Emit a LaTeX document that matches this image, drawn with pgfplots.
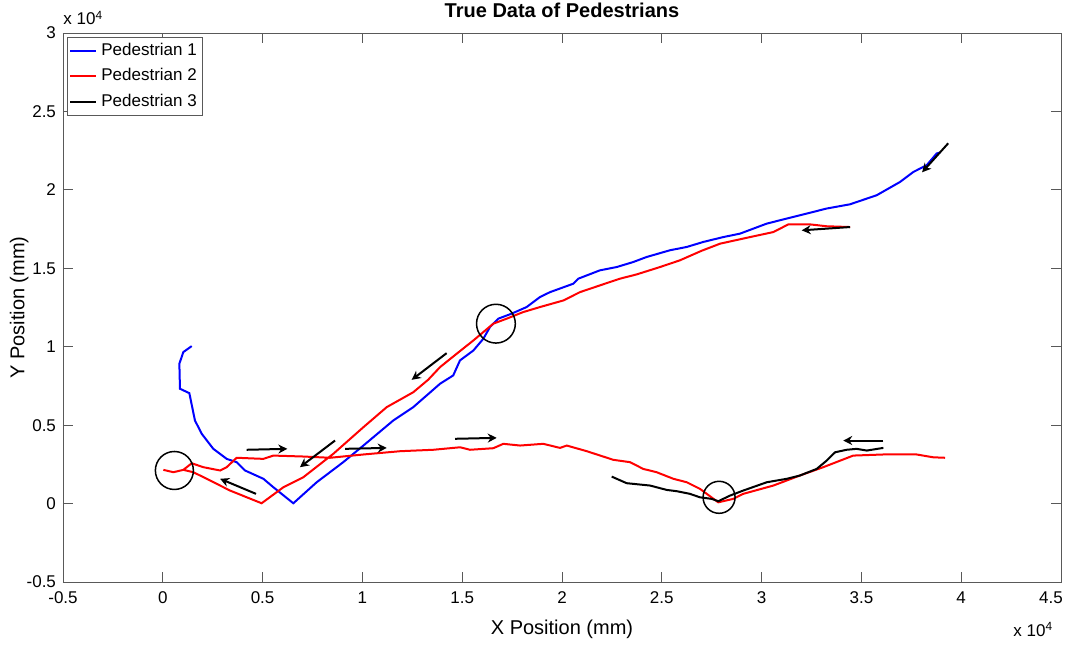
\documentclass[border=0pt]{standalone}
\usepackage{fontspec}
\setmainfont{Liberation Sans}
\usepackage{pgfplots}
\pgfplotsset{compat=1.18}
\usetikzlibrary{arrows.meta}
\definecolor{axgray}{gray}{0.35}
\begin{document}
\begin{tikzpicture}
\useasboundingbox (-31.5pt,-31pt) rectangle (503pt,291pt);
\begin{axis}[
  at={(0,0)}, anchor=south west,
  scale only axis, width=499pt, height=274.5pt,
  xmin=-0.5, xmax=4.5, ymin=-0.5, ymax=3,
  xtick={-0.5,0,0.5,1,1.5,2,2.5,3,3.5,4,4.5},
  xticklabels={-0.5,0,0.5,1,1.5,2,2.5,3,3.5,4,{\hspace*{-10pt}4.5}},
  ytick={-0.5,0,0.5,1,1.5,2,2.5,3},
  yticklabels={-0.5,0,0.5,1,1.5,2,2.5,3},
  tick align=inside,
  major tick length=5pt,
  axis line style={axgray},
  every tick/.style={axgray},
  tick label style={font=\fontsize{8.5}{10}\selectfont},
  xticklabel style={yshift=-1.5pt},
  xlabel={X Position (mm)},
  ylabel={Y Position (mm)},
  xlabel style={at={(axis description cs:0.5,0)}, anchor=north, inner sep=0pt, yshift=-19pt, font=\fontsize{10}{12}\selectfont},
  ylabel style={at={(axis description cs:-0.044,0.5)}, anchor=center, rotate=0, font=\fontsize{10}{12}\selectfont},
  title={True Data of Pedestrians},
  every axis title/.style={at={(axis description cs:0.5,1)}, anchor=base, inner sep=0pt, yshift=8pt, font=\bfseries\fontsize{10}{12}\selectfont},
  legend style={at={(axis description cs:0.004,0.993)}, anchor=north west, draw=axgray, font=\fontsize{8.5}{10}\selectfont, inner sep=1pt, row sep=1pt},
  legend cell align=left,
  legend image code/.code={\draw[#1, line width=1pt] (0pt,0pt) -- (13pt,0pt);},
  every axis plot/.append style={line width=1pt},
  clip=true,
]
\addplot[blue] coordinates {
(0.145,1.004) (0.103,0.966) (0.083,0.892) (0.086,0.732) (0.133,0.704) (0.161,0.530)
(0.195,0.445) (0.253,0.349) (0.320,0.285) (0.370,0.264) (0.412,0.211) (0.504,0.158)
(0.554,0.104) (0.654,0.002) (0.771,0.136) (0.904,0.264) (1.005,0.370) (1.155,0.530)
(1.255,0.615) (1.389,0.764) (1.455,0.817) (1.489,0.913) (1.556,0.976) (1.606,1.051)
(1.639,1.125) (1.681,1.179) (1.748,1.211) (1.823,1.253) (1.890,1.317) (1.940,1.348)
(2.057,1.402) (2.082,1.434) (2.190,1.487) (2.274,1.508) (2.357,1.540) (2.424,1.572)
(2.541,1.615) (2.625,1.636) (2.708,1.668) (2.808,1.699) (2.892,1.721) (3.026,1.785)
(3.192,1.838) (3.326,1.881) (3.443,1.908) (3.577,1.966) (3.693,2.050) (3.760,2.114)
(3.827,2.157) (3.877,2.232) (3.894,2.238)
};
\addlegendentry{Pedestrian 1}
\addplot[red] coordinates {
(3.443,1.763) (3.326,1.768) (3.242,1.780) (3.134,1.780) (3.059,1.731) (2.942,1.699)
(2.792,1.657) (2.700,1.612) (2.591,1.551) (2.491,1.508) (2.374,1.461) (2.291,1.434)
(2.190,1.391) (2.090,1.348) (2.007,1.295) (1.890,1.253) (1.806,1.221) (1.723,1.179)
(1.656,1.147) (1.556,1.040) (1.472,0.955) (1.389,0.870) (1.330,0.790) (1.255,0.710)
(1.122,0.615) (1.005,0.487) (0.854,0.317) (0.704,0.168) (0.604,0.104) (0.495,0.002)
(0.337,0.083) (0.220,0.158) (0.153,0.200) (0.103,0.215) (0.053,0.200) (0.003,0.215)
(0.053,0.200) (0.103,0.215) (0.145,0.257) (0.203,0.232) (0.287,0.211) (0.320,0.232)
(0.370,0.292) (0.504,0.285) (0.554,0.306) (0.704,0.300) (0.838,0.292) (1.005,0.313)
(1.190,0.334) (1.355,0.343) (1.489,0.359) (1.539,0.343) (1.656,0.353) (1.706,0.381)
(1.790,0.370) (1.906,0.381) (1.990,0.355) (2.024,0.370) (2.124,0.334) (2.257,0.279)
(2.341,0.264) (2.407,0.221) (2.474,0.200) (2.558,0.158) (2.625,0.136) (2.691,0.094)
(2.783,0.008) (2.858,0.030) (2.908,0.062) (3.059,0.115) (3.192,0.179) (3.309,0.232)
(3.459,0.306) (3.610,0.313) (3.777,0.313) (3.860,0.295) (3.919,0.292)
};
\addlegendentry{Pedestrian 2}
\addplot[black] coordinates {
(2.249,0.172) (2.324,0.130) (2.441,0.115) (2.525,0.087) (2.575,0.079) (2.641,0.062)
(2.691,0.040) (2.750,0.030) (2.783,0.015) (2.842,0.051) (2.908,0.083) (3.026,0.136)
(3.126,0.158) (3.192,0.179) (3.276,0.221) (3.326,0.274) (3.368,0.327) (3.426,0.343)
(3.476,0.349) (3.527,0.338) (3.610,0.355)
};
\addlegendentry{Pedestrian 3}
% annotations: arrows
\begin{scope}[line width=1pt, -{Stealth[length=4.5pt, width=4.5pt]}]
\draw (axis cs:3.935,2.297) -- (axis cs:3.804,2.112);
\draw (axis cs:3.443,1.763) -- (axis cs:3.201,1.742);
\draw (axis cs:1.422,0.959) -- (axis cs:1.247,0.789);
\draw (axis cs:0.863,0.402) -- (axis cs:0.687,0.232);
\draw (axis cs:0.467,0.062) -- (axis cs:0.287,0.158);
\draw (axis cs:0.420,0.343) -- (axis cs:0.624,0.349);
\draw (axis cs:0.913,0.349) -- (axis cs:1.122,0.355);
\draw (axis cs:1.464,0.413) -- (axis cs:1.673,0.419);
\draw (axis cs:3.610,0.402) -- (axis cs:3.409,0.402);
\end{scope}
% annotations: circles
\draw[line width=0.75pt] (axis cs:0.058,0.211) circle[radius=9.5pt];
\draw[line width=0.75pt] (axis cs:1.669,1.147) circle[radius=9.7pt];
\draw[line width=0.75pt] (axis cs:2.787,0.040) circle[radius=8pt];
\end{axis}
\node[anchor=base west, font=\fontsize{8.5}{10}\selectfont, inner sep=0pt] at (0pt,278.5pt) {x 10\textsuperscript{4}};
\node[anchor=base west, font=\fontsize{8.5}{10}\selectfont, inner sep=0pt] at (475pt,-27pt) {x 10\textsuperscript{4}};
\end{tikzpicture}
\end{document}
